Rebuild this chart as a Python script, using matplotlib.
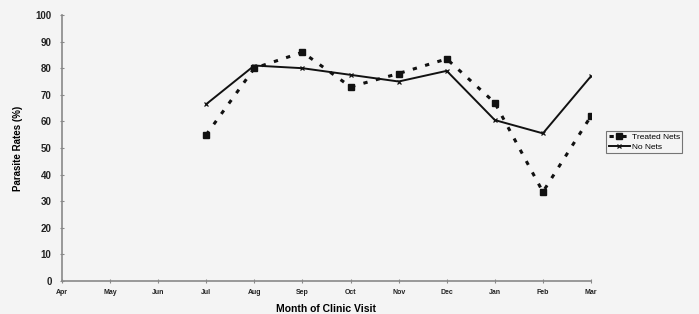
import matplotlib
matplotlib.use("Agg")
import matplotlib.pyplot as plt

months = ["Apr", "May", "Jun", "Jul", "Aug", "Sep", "Oct", "Nov", "Dec", "Jan", "Feb", "Mar"]
treated_months = ["Jul", "Aug", "Sep", "Oct", "Nov", "Dec", "Jan", "Feb", "Mar"]
treated_nets = [55, 80, 86, 73, 78, 83.5, 67, 33.5, 62]
no_nets = [66.5, 81, 80, 77.5, 75, 79, 60.5, 55.5, 77]
yticks = [0, 10, 20, 30, 40, 50, 60, 70, 80, 90, 100]

plt.rcParams['font.family'] = ['Liberation Sans', 'DejaVu Sans']
bg = "#f4f4f4"
fig = plt.figure(figsize=(6.99, 3.14), dpi=100, facecolor=bg)
ax = fig.add_axes([62/699, 33/314, 529/699, 266/314], facecolor=bg)

xpos = [months.index(m) for m in treated_months]
ax.plot(xpos, treated_nets, linestyle=(0, (1.4, 2.8)), color="#111111", linewidth=2.2,
        marker="s", markersize=4.5, label="Treated Nets")
ax.plot(xpos, no_nets, linestyle="-", color="#111111", linewidth=1.4,
        marker="x", markersize=3.2, markeredgewidth=0.9, label="No Nets")

ax.set_xlim(0, len(months) - 1)
ax.set_ylim(0, 100)
ax.set_xticks(range(len(months)))
ax.set_xticklabels(months, fontsize=5, fontweight="bold", color="#222222")
ax.set_yticks(yticks)
ax.set_yticklabels([str(v) for v in yticks], fontsize=7, fontweight="bold", color="#222222")
ax.tick_params(axis="both", direction="inout", length=3, width=0.8, color="#888888")
ax.tick_params(axis="x", pad=4)
ax.tick_params(axis="y", pad=6)
for s in ["top", "right"]:
    ax.spines[s].set_visible(False)
for s in ["left", "bottom"]:
    ax.spines[s].set_color("#888888")
    ax.spines[s].set_linewidth(1.2)

ax.set_ylabel("Parasite Rates (%)", fontsize=7, fontweight="bold", labelpad=9)
ax.set_xlabel("Month of Clinic Visit", fontsize=7.5, fontweight="bold", labelpad=6)

leg = fig.legend(loc="upper left", bbox_to_anchor=(606/699, 1 - 131/314), fontsize=6,
                 frameon=True, fancybox=False, edgecolor="#555555", facecolor=bg,
                 handlelength=2.6, borderpad=0.3, labelspacing=0.2, handletextpad=0.2,
                 borderaxespad=0)
leg.get_frame().set_linewidth(0.8)

fig.savefig("out.png", dpi=100, facecolor=bg)
